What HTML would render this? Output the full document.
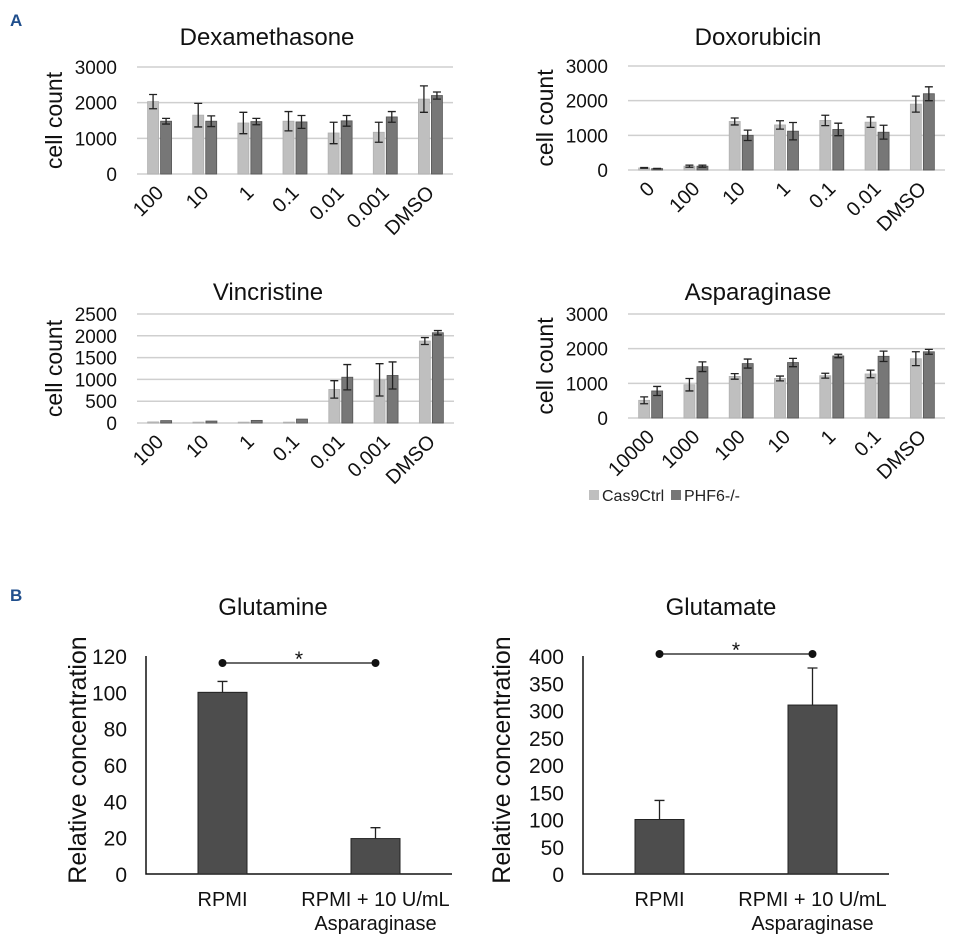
<!DOCTYPE html>
<html><head><meta charset="utf-8"><style>
html,body{margin:0;padding:0;background:#fff;}
svg{display:block;font-family:"Liberation Sans",Arial,sans-serif;}
</style></head><body>
<svg id="fig" width="967" height="942" viewBox="0 0 967 942" xmlns="http://www.w3.org/2000/svg">
<text x="10" y="26" font-size="17" font-weight="bold" fill="#1f4e8c">A</text>
<text x="10" y="601" font-size="17" font-weight="bold" fill="#1f4e8c">B</text>
<g>
<rect x="589" y="490" width="10" height="10" fill="#bfbfbf"/>
<text x="602" y="501" font-size="16" fill="#222">Cas9Ctrl</text>
<rect x="671" y="490" width="10" height="10" fill="#777"/>
<text x="684" y="501" font-size="16" fill="#222">PHF6-/-</text>
</g>
</svg>
<script>
const NS="http://www.w3.org/2000/svg";
const svg=document.getElementById('fig');
// ---- Panel A data ----
const dexCats=["100","10","1","0.1","0.01","0.001","DMSO"];
const dexCtrl=[2030,1650,1430,1480,1150,1170,2100];
const dexCtrlErr=[200,330,300,270,300,280,370];
const dexKo=[1480,1480,1470,1460,1490,1600,2200];
const dexKoErr=[80,150,90,180,150,150,100];
const doxCats=["0","100","10","1","0.1","0.01","DMSO"];
const doxCtrl=[60,110,1400,1300,1430,1380,1900];
const doxCtrlErr=[10,30,100,120,150,150,230];
const doxKo=[40,110,1000,1120,1170,1090,2200];
const doxKoErr=[5,30,150,250,180,200,200];
const vinCats=["100","10","1","0.1","0.01","0.001","DMSO"];
const vinCtrl=[25,20,20,20,770,990,1880];
const vinCtrlErr=[0,0,0,0,200,370,80];
const vinKo=[55,45,60,90,1050,1090,2070];
const vinKoErr=[0,0,0,0,290,310,50];
const aspCats=["10000","1000","100","10","1","0.1","DMSO"];
const aspCtrl=[510,960,1200,1140,1220,1270,1710];
const aspCtrlErr=[100,180,80,70,70,110,200];
const aspKo=[780,1480,1570,1600,1790,1780,1910];
const aspKoErr=[130,140,130,120,50,150,70];
const dexTicks=[0,1000,2000,3000];
const doxTicks=[0,1000,2000,3000];
const vinTicks=[0,500,1000,1500,2000,2500];
const aspTicks=[0,1000,2000,3000];
// ---- Panel B data ----
const bCats=["RPMI","RPMI + 10 U/mL|Asparaginase"];
const glnVals=[100,19.5];
const glnErr=[6,6];
const glnTicks=[0,20,40,60,80,100,120];
const gluVals=[100,310];
const gluErr=[35,68];
const gluTicks=[0,50,100,150,200,250,300,350,400];

function mk(tag,attrs,parent){const e=document.createElementNS(NS,tag);for(const k in attrs)e.setAttribute(k,attrs[k]);(parent||svg).appendChild(e);return e;}

function groupChart(o){
  const g=mk('g',{});
  
  
  const ymax=o.ticks[o.ticks.length-1];
  const yS=v=>o.y0-(v/ymax)*(o.y0-o.y1);
  const n=o.cats.length, gw=(o.x1-o.x0)/n;
  const xS=i=>o.x0+gw*(i+0.5);
  const t=mk('text',{x:o.titleX,y:o.titleY,'font-size':24,'text-anchor':'middle',fill:'#111'},g);
  t.textContent=o.title;
  
  
  o.ticks.forEach(v=>{
    const l=mk('line',{x1:o.x0,x2:o.x1,y1:yS(v),y2:yS(v),stroke:'#cfcfcf','stroke-width':1.5},g);
    
    
    const tt=mk('text',{x:o.x0-20,y:yS(v)+7,'font-size':19,'text-anchor':'end',fill:'#111'},g);
    tt.textContent=v;
    
    
  });
  const yl=mk('text',{x:0,y:0,'font-size':23,'text-anchor':'middle',fill:'#111',transform:`translate(${o.x0-75},${(o.y0+o.y1)/2}) rotate(-90)`},g);
  yl.textContent='cell count';
  
  
  const bw=11;
  function bar(i,v,e,dx,fill,stroke,label){
    const x=xS(i)+dx;
    const r=mk('rect',{x:x,y:yS(v),width:bw,height:o.y0-yS(v),fill:fill,stroke:stroke,'stroke-width':0.8},g);
    
    
    if(e>0){
      const cx=x+bw/2;
      const p=mk('path',{d:`M${cx},${yS(v+e)}V${yS(v-e)}M${cx-4},${yS(v+e)}H${cx+4}M${cx-4},${yS(v-e)}H${cx+4}`,stroke:'#222','stroke-width':1.3,fill:'none'},g);
      
      
    }
  }
  o.cats.forEach((c,i)=>{
    bar(i,o.a[i],o.ae[i],-12,'#bfbfbf','#b0b0b0','ctrl');
    bar(i,o.b[i],o.be[i],1,'#777','#555','ko');
    const xl=mk('text',{x:0,y:0,'font-size':20,'text-anchor':'end',fill:'#111',transform:`translate(${xS(i)+5},${o.y0+20}) rotate(-45)`},g);
    xl.textContent=c;
    
    
  });
}
groupChart({name:'dexamethasone',title:'Dexamethasone',titleX:267,titleY:45,cats:dexCats,a:dexCtrl,ae:dexCtrlErr,b:dexKo,be:dexKoErr,ticks:dexTicks,x0:137,x1:453,y0:174,y1:67});
groupChart({name:'doxorubicin',title:'Doxorubicin',titleX:758,titleY:45,cats:doxCats,a:doxCtrl,ae:doxCtrlErr,b:doxKo,be:doxKoErr,ticks:doxTicks,x0:628,x1:945,y0:170,y1:66});
groupChart({name:'vincristine',title:'Vincristine',titleX:268,titleY:300,cats:vinCats,a:vinCtrl,ae:vinCtrlErr,b:vinKo,be:vinKoErr,ticks:vinTicks,x0:137,x1:454,y0:423,y1:314});
groupChart({name:'asparaginase',title:'Asparaginase',titleX:758,titleY:300,cats:aspCats,a:aspCtrl,ae:aspCtrlErr,b:aspKo,be:aspKoErr,ticks:aspTicks,x0:628,x1:945,y0:418,y1:314});

function simpleChart(o){
  const g=mk('g',{});
  
  
  const ymax=o.ticks[o.ticks.length-1];
  const yS=v=>o.y0-(v/ymax)*(o.y0-o.y1);
  const gw=(o.x1-o.x0)/2;
  const xS=i=>o.x0+gw*(i+0.5);
  const t=mk('text',{x:o.titleX,y:615,'font-size':24,'text-anchor':'middle',fill:'#111'},g);
  t.textContent=o.title;
  
  
  const ax=mk('path',{d:`M${o.x0},${o.y1}V${o.y0}H${o.x1}`,stroke:'#111','stroke-width':1.5,fill:'none'},g);
  
  
  o.ticks.forEach(v=>{
    const tt=mk('text',{x:o.x0-19,y:yS(v)+8,'font-size':21,'text-anchor':'end',fill:'#111'},g);
    tt.textContent=v;
    
    
  });
  const yl=mk('text',{x:0,y:0,'font-size':25,'text-anchor':'middle',fill:'#111',transform:`translate(${o.ylX},${(o.y0+o.y1)/2-5}) rotate(-90)`},g);
  yl.textContent='Relative concentration';
  
  
  const bw=49;
  o.vals.forEach((v,i)=>{
    const cx=xS(i);
    const r=mk('rect',{x:cx-bw/2,y:yS(v),width:bw,height:o.y0-yS(v),fill:'#4d4d4d',stroke:'#222','stroke-width':1},g);
    
    
    const p=mk('path',{d:`M${cx},${yS(v)}V${yS(v+o.err[i])}M${cx-5},${yS(v+o.err[i])}H${cx+5}`,stroke:'#222','stroke-width':1.3,fill:'none'},g);
    
    
    const parts=bCats[i].split('|');
    parts.forEach((s,k)=>{
      const xl=mk('text',{x:cx,y:906+k*24,'font-size':20,'text-anchor':'middle',fill:'#111'},g);
      xl.textContent=s;
      
      
    });
  });
  const bl=mk('path',{d:`M${xS(0)},${o.brY}H${xS(1)}`,stroke:'#111','stroke-width':1.3},g);
  
  
  [0,1].forEach(i=>{
    const c=mk('circle',{cx:xS(i),cy:o.brY,r:4,fill:'#111'},g);
    
    
  });
  const st=mk('text',{x:(xS(0)+xS(1))/2,y:o.brY+3,'font-size':21,'text-anchor':'middle',fill:'#111'},g);
  st.textContent='*';
  
  
}
simpleChart({name:'glutamine',title:'Glutamine',titleX:273,vals:glnVals,err:glnErr,ticks:glnTicks,x0:146,x1:452,y0:874,y1:656,ylX:86,brY:663});
simpleChart({name:'glutamate',title:'Glutamate',titleX:721,vals:gluVals,err:gluErr,ticks:gluTicks,x0:583,x1:889,y0:874,y1:656,ylX:510,brY:654});
</script>
</body></html>
